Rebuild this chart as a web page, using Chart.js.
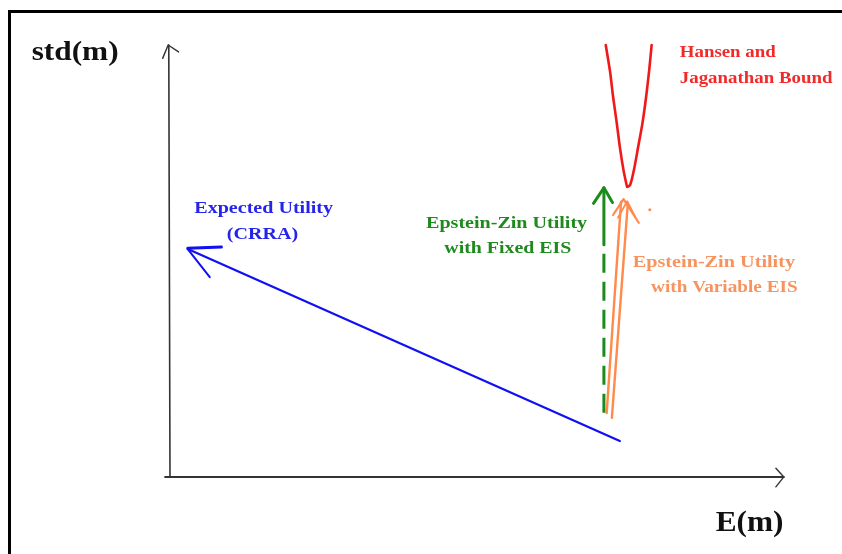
<!DOCTYPE html>
<html>
<head>
<meta charset="utf-8">
<script src="https://cdn.jsdelivr.net/npm/chart.js@4.4.1/dist/chart.umd.min.js"></script>
<style>
  html, body { margin: 0; padding: 0; background: #fff; }
  #wrap { position: relative; width: 842px; height: 554px; overflow: hidden; }
  #frame { position: absolute; left: 8px; top: 10px; right: -10px; bottom: -10px;
           border-left: 3px solid #000; border-top: 3px solid #000; pointer-events: none; }
  canvas { position: absolute; left: 0; top: 0; }
</style>
</head>
<body>
<div id="wrap">
  <canvas id="c" width="842" height="554"></canvas>
  <div id="frame"></div>
</div>
<script>
// ---- Data (diagram units: E(m) on x, std(m) on y; drawn axes run 0..10) ----
const axisYx = [0.00, -0.02];
const axisYy = [-0.02, 10.00];
const axisYheadX = [-0.12, -0.03, 0.14];
const axisYheadY = [9.69, 10.00, 9.84];
const axisXx = [-0.08, 10.03];
const axisXy = [-0.01, -0.01];
const axisXheadX = [9.90, 10.03, 9.90];
const axisXheadY = [0.19, -0.01, -0.24];

// Expected Utility (CRRA) line and arrow
const crraX = [7.35, 0.29];
const crraY = [0.82, 5.27];
const crraHead1X = [0.29, 0.84];
const crraHead1Y = [5.29, 5.32];
const crraHead2X = [0.29, 0.65];
const crraHead2Y = [5.27, 4.62];

// Hansen-Jagannathan bound
const hjX = [7.12, 7.19, 7.24, 7.30, 7.35, 7.41, 7.46, 7.47, 7.52, 7.58, 7.65, 7.72, 7.78, 7.83, 7.87];
const hjY = [10.00, 9.39, 8.80, 8.19, 7.64, 7.10, 6.76, 6.71, 6.76, 7.10, 7.64, 8.19, 8.80, 9.42, 10.00];

// Epstein-Zin, fixed EIS (green)
const ezFixedSolidX = [7.09, 7.09];
const ezFixedSolidY = [6.69, 5.37];
const ezFixedDashX = [7.09, 7.09];
const ezFixedDashY = [5.16, 1.47];
const ezFixedHeadX = [6.92, 7.09, 7.23];
const ezFixedHeadY = [6.33, 6.69, 6.35];

// Epstein-Zin, variable EIS (orange)
const ezVarLeftX = [7.135, 7.37];
const ezVarLeftY = [1.47, 6.37];
const ezVarRightX = [7.22, 7.48];
const ezVarRightY = [1.36, 6.32];
const ezVarHead1X = [7.24, 7.41, 7.66];
const ezVarHead1Y = [6.06, 6.43, 5.88];
const ezVarHead2X = [7.32, 7.47, 7.60];
const ezVarHead2Y = [6.00, 6.38, 6.02];
const ezVarDotX = [7.84];
const ezVarDotY = [6.18];

const zip = (xs, ys) => xs.map((x, i) => ({ x: x, y: ys[i] }));

function seg(xs, ys, color, width, dash, cap) {
  return {
    data: zip(xs, ys), showLine: true, borderColor: color, backgroundColor: color,
    borderWidth: width, pointRadius: 0, borderDash: dash || [], fill: false,
    borderCapStyle: cap || 'round', borderJoinStyle: 'round', tension: 0, clip: false
  };
}

const AX = '#333333', BLUE = '#1010f0', RED = '#f01818', GREEN = '#1c8a1c', ORANGE = '#ff8a4c';

const datasets = [
  seg(axisYx, axisYy, AX, 1.6),
  seg(axisYheadX, axisYheadY, AX, 1.4),
  seg(axisXx, axisXy, AX, 2),
  seg(axisXheadX, axisXheadY, AX, 1.4),
  seg(crraX, crraY, BLUE, 2.2),
  seg(crraHead1X, crraHead1Y, BLUE, 3),
  seg(crraHead2X, crraHead2Y, BLUE, 2),
  Object.assign(seg(hjX, hjY, RED, 2.6), { tension: 0.25 }),
  seg(ezFixedSolidX, ezFixedSolidY, GREEN, 3, [], 'butt'),
  seg(ezFixedDashX, ezFixedDashY, GREEN, 3, [19, 9], 'butt'),
  seg(ezFixedHeadX, ezFixedHeadY, GREEN, 3),
  seg(ezVarLeftX, ezVarLeftY, ORANGE, 2.4),
  seg(ezVarRightX, ezVarRightY, ORANGE, 2.4),
  seg(ezVarHead1X, ezVarHead1Y, ORANGE, 2.2),
  seg(ezVarHead2X, ezVarHead2Y, ORANGE, 1.8),
  { data: zip(ezVarDotX, ezVarDotY), showLine: false, pointRadius: 1.5, pointBackgroundColor: ORANGE, pointBorderWidth: 0, clip: false }
];

// Text annotations placed in diagram units (sx = horizontal stretch)
const notes = [
  { t: 'std(m)', x: -1.55, y: 9.82, c: '#111', s: 27, sx: 1.16, a: 'center' },
  { t: 'E(m)', x: 9.47, y: -1.08, c: '#111', s: 29, sx: 1.08, a: 'center' },
  { t: 'Expected Utility', x: 1.53, y: 6.20, c: '#2424ea', s: 17, sx: 1.18, a: 'center' },
  { t: '(CRRA)', x: 1.51, y: 5.60, c: '#2424ea', s: 17, sx: 1.18, a: 'center' },
  { t: 'Epstein-Zin Utility', x: 5.50, y: 5.85, c: '#1e8a1e', s: 17, sx: 1.18, a: 'center' },
  { t: 'with Fixed EIS', x: 5.52, y: 5.27, c: '#1e8a1e', s: 17, sx: 1.17, a: 'center' },
  { t: 'Hansen and', x: 8.33, y: 9.82, c: '#f02a2a', s: 17, sx: 1.11, a: 'left' },
  { t: 'Jaganathan Bound', x: 8.33, y: 9.21, c: '#f02a2a', s: 17, sx: 1.11, a: 'left' },
  { t: 'Epstein-Zin Utility', x: 7.56, y: 4.95, c: '#f7935e', s: 17, sx: 1.19, a: 'left' },
  { t: 'with Variable EIS', x: 7.86, y: 4.37, c: '#f7935e', s: 17, sx: 1.13, a: 'left' }
];

const notesPlugin = {
  id: 'notes',
  afterDatasetsDraw(chart) {
    const ctx = chart.ctx, xs = chart.scales.x, ys = chart.scales.y;
    notes.forEach(n => {
      ctx.save();
      ctx.font = 'bold ' + n.s + 'px "Liberation Serif", "Times New Roman", serif';
      ctx.fillStyle = n.c;
      ctx.textAlign = n.a;
      ctx.textBaseline = 'middle';
      ctx.translate(xs.getPixelForValue(n.x), ys.getPixelForValue(n.y));
      ctx.scale(n.sx, 1);
      ctx.fillText(n.t, 0, 0);
      ctx.restore();
    });
  }
};

new Chart(document.getElementById('c'), {
  type: 'scatter',
  data: { datasets: datasets },
  options: {
    responsive: false,
    animation: false,
    devicePixelRatio: 1,
    layout: { padding: { left: 17, right: 29.4, top: 45, bottom: 77.5 } },
    plugins: { legend: { display: false }, tooltip: { enabled: false } },
    scales: {
      x: { type: 'linear', min: -2.5, max: 10.5, display: false },
      y: { type: 'linear', min: 0, max: 10, display: false }
    }
  },
  plugins: [notesPlugin]
});
</script>
</body>
</html>
